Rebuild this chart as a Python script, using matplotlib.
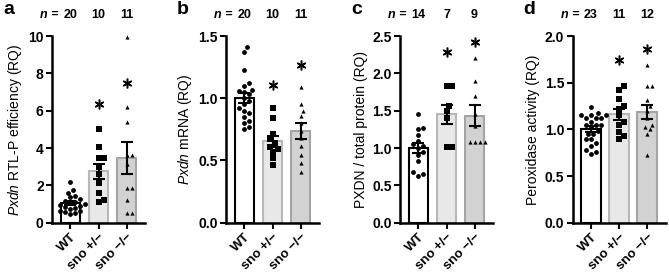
import numpy as np
import matplotlib.pyplot as plt

plt.rcParams['font.family'] = 'Liberation Sans'
plt.rcParams['mathtext.fontset'] = 'custom'
plt.rcParams['mathtext.it'] = 'Liberation Sans:italic'
plt.rcParams['mathtext.rm'] = 'Liberation Sans'

groups = ['WT', 'sno +/\u2212', 'sno \u2212/\u2212']

# a - Pxdn RTL-P efficiency
a_wt = [2.2, 1.75, 1.6, 1.45, 1.35, 1.25, 1.15, 1.1, 1.05, 1.0,
        0.95, 0.9, 0.85, 0.8, 0.75, 0.65, 0.6, 0.55, 0.5, 0.45]
a_het = [5.0, 4.05, 3.45, 3.45, 3.0, 2.6, 2.15, 1.6, 1.2, 1.1]
a_ko = [9.96, 6.18, 5.41, 3.63, 3.63, 3.17, 1.84, 1.84, 1.21, 0.54, 0.54]
a_star = [6.35, 7.5]

# b - Pxdn mRNA
b_wt = [1.41, 1.37, 1.23, 1.12, 1.10, 1.07, 1.06, 1.05, 1.03, 1.0,
        0.98, 0.95, 0.92, 0.90, 0.88, 0.85, 0.82, 0.80, 0.77, 0.75]
b_het = [0.92, 0.84, 0.71, 0.67, 0.64, 0.61, 0.59, 0.57, 0.52, 0.46]
b_ko = [1.09, 0.95, 0.90, 0.86, 0.80, 0.74, 0.68, 0.62, 0.54, 0.48, 0.41]
b_star = [1.11, 1.27]

# c - PXDN / total protein
c_wt = [1.45, 1.27, 1.25, 1.17, 1.10, 1.05, 1.03, 1.0, 0.95, 0.90,
        0.82, 0.68, 0.65, 0.63]
c_het = [1.83, 1.83, 1.56, 1.50, 1.40, 1.02, 1.02]
c_ko = [2.21, 1.90, 1.70, 1.45, 1.30, 1.08, 1.08, 1.08, 1.08]
c_star = [2.28, 2.42]

# d - peroxidase activity
d_wt = [1.24, 1.17, 1.15, 1.15, 1.15, 1.12, 1.12, 1.12, 1.08, 1.05, 1.05, 1.05,
        1.02, 0.98, 0.95, 0.95, 0.9, 0.9, 0.85, 0.82, 0.78, 0.76, 0.74]
d_het = [1.46, 1.42, 1.32, 1.25, 1.22, 1.15, 1.08, 1.05, 0.97, 0.93, 0.90]
d_ko = [1.69, 1.46, 1.46, 1.31, 1.25, 1.20, 1.12, 1.05, 1.02, 1.00, 0.95, 0.73]
d_star = [1.74, 1.86]

panels = [
    ('a', [a_wt, a_het, a_ko], a_star, r'$Pxdn$ RTL-P efficiency (RQ)', 10, 2, '%d', 52),
    ('b', [b_wt, b_het, b_ko], b_star, r'$Pxdn$ mRNA (RQ)', 1.5, 0.5, '%.1f', 226),
    ('c', [c_wt, c_het, c_ko], c_star, 'PXDN / total protein (RQ)', 2.5, 0.5, '%.1f', 400),
    ('d', [d_wt, d_het, d_ko], d_star, 'Peroxidase activity (RQ)', 2.0, 0.5, '%.1f', 572.5),
]

fills = ['white', '#e8e8e8', '#d2d2d2']
edges = ['black', '#b8b8b8', '#a4a4a4']
markers = ['o', 's', '^']
msizes = [12, 13, 9]
W, H = 669, 275


def swarm(ax, x0, vals, d):
    # simple beeswarm in pixel space
    tr = ax.transData
    xs = np.zeros(len(vals))
    placed = []
    for i in np.argsort(vals):
        px0, py = tr.transform((x0, vals[i]))
        for k in range(40):
            off = ((k + 1) // 2) * (d * 0.5) * (1 if k % 2 else -1)
            px = px0 + off
            if all((px - qx) ** 2 + (py - qy) ** 2 >= d ** 2 for qx, qy in placed):
                break
        placed.append((px, py))
        xs[i] = tr.inverted().transform((px, py))[0]
    return xs


fig = plt.figure(figsize=(6.69, 2.75), dpi=100)

for letter, data, stars, ylab, ymax, ystep, fmt, left in panels:
    ax = fig.add_axes([left / W, (H - 222.7) / H, 93 / W, 186.7 / H])
    ax.set_xlim(-0.66, 2.66)
    ax.set_ylim(0, ymax)
    x = np.arange(3)
    means = [np.mean(v) for v in data]
    sems = [np.std(v, ddof=1) / np.sqrt(len(v)) for v in data]
    ax.bar(x, means, width=0.68, color=fills, edgecolor=edges, linewidth=1.5, zorder=1)
    for i, v in enumerate(data):
        xs = swarm(ax, i, v, 5.0)
        ax.scatter(xs, v, marker=markers[i], s=msizes[i], color='black',
                   linewidths=0, zorder=3, clip_on=False)
    ax.errorbar(x, means, yerr=sems, fmt='none', ecolor='black', elinewidth=1.5,
                capsize=4.5, capthick=1.5, zorder=4)
    for i, s in enumerate(stars):
        ax.plot(i + 1, s, marker=(6, 2, 0), ms=7, mew=1.1, color='black', clip_on=False)

    ax.spines['top'].set_visible(False)
    ax.spines['right'].set_visible(False)
    ax.spines['left'].set_linewidth(1.8)
    ax.spines['bottom'].set_linewidth(1.8)
    ticks = np.arange(0, ymax + 1e-9, ystep)
    ax.set_yticks(ticks)
    ax.set_yticklabels([fmt % t for t in ticks], fontsize=10, fontweight='bold')
    ax.set_xticks(x)
    ax.set_xticklabels(groups, rotation=45, ha='right', rotation_mode='anchor',
                       fontsize=9.5, fontweight='bold')
    ax.tick_params(width=1.5, length=4, pad=2)
    ax.set_ylabel(ylab, fontsize=10, labelpad=3)

    ns = [len(v) for v in data]
    xt = ax.get_xaxis_transform()
    ax.text(0, 1.112, str(ns[0]), transform=xt, ha='center', va='center',
            fontsize=9, fontweight='bold')
    ax.annotate('n =', xy=(0, 1.112), xycoords=xt, xytext=(-8.5, 0),
                textcoords='offset points', ha='right', va='center',
                fontsize=9, fontweight='bold', style='italic')
    for i in (1, 2):
        ax.text(i, 1.112, str(ns[i]), transform=xt, ha='center', va='center',
                fontsize=9, fontweight='bold')

    fig.text((left - 49) / W, 1 - 1 / H, letter, ha='left', va='top',
             fontsize=14, fontweight='bold')

fig.savefig('out.png', dpi=100)
